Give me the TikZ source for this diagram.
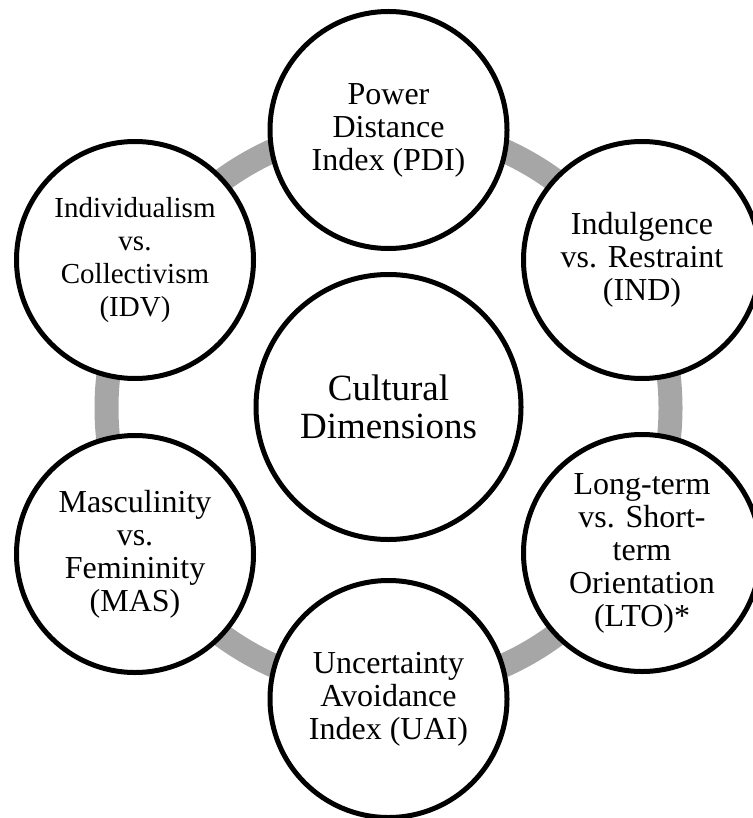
\documentclass[tikz,border=0pt]{standalone}
\usepackage{fontspec}
\setmainfont{Liberation Serif}
\usepackage{tikz}

\begin{document}
\begin{tikzpicture}[x=1pt,y=-1pt,
  dim/.style={circle,draw=black,line width=5pt,fill=white,minimum size=237pt,
    inner sep=0pt,align=center,font=\fontsize{32}{33}\selectfont},
  core/.style={dim,minimum size=265pt,font=\fontsize{37}{38.5}\selectfont},
  ring/.style={draw=black!35,line width=24pt}]
\useasboundingbox (0,0) rectangle (752,818);

\coordinate (o) at (388.5,408);

% grey ring behind the circles
\draw[ring] (o) circle (282pt);

\node[core] (cd) at (388.5,407) {Cultural\\Dimensions};

\node[dim] (pdi) at (388.5,130) {Power\\Distance\\Index (PDI)};
\node[dim] (ind) at (642,260) {Indulgence\\vs. Restraint\\(IND)};
\node[dim] (lto) at (642,553) {Long-term\\vs. Short-\\term\\Orientation\\(LTO)*};
\node[dim] (uai) at (388.5,699) {Uncertainty\\Avoidance\\Index (UAI)};
\node[dim] (mas) at (135,554) {Masculinity\\vs.\\Femininity\\(MAS)};
\node[dim,font=\fontsize{29}{33}\selectfont] (idv) at (135,260) {Individualism\\vs.\\Collectivism\\(IDV)};
\end{tikzpicture}
\end{document}
